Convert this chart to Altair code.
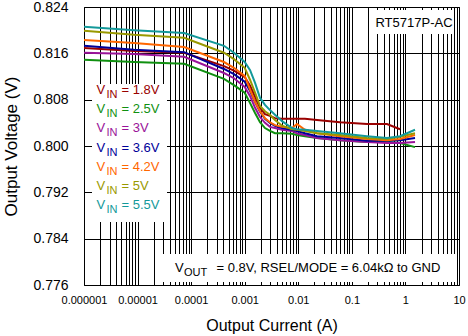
import altair as alt
import pandas as pd

# Output current (A)
currents = [1e-6, 8.6e-6, 7.4e-5, 4.1e-4, 6.3e-4, 1.0e-3, 1.26e-3, 1.56e-3, 1.93e-3,
            2.39e-3, 2.96e-3, 3.67e-3, 4.97e-3, 7.64e-3, 9.46e-3, 1.33e-2, 2.23e-2,
            6.0e-2, 0.192, 0.453, 0.793, 1.51]

series_names = ["1.8V", "2.5V", "3V", "3.6V", "4.2V", "5V", "5.5V"]
series_colors = ["#990000", "#109010", "#991399", "#000099", "#FF6600", "#999900", "#13999A"]

v_18 = [0.8169, 0.8164, 0.8161, 0.8138, 0.8130, 0.8119, 0.8104, 0.8085, 0.8066, 0.8055, 0.8052,
        0.8048, 0.8047, 0.8047, 0.8047, 0.8047, 0.8045, 0.8041, 0.8038, 0.8038, 0.8029, None]
v_25 = [0.8149, 0.8145, 0.8142, 0.8116, 0.8105, 0.8092, 0.8074, 0.8057, 0.8041, 0.8031, 0.8026,
        0.8022, 0.8022, 0.8021, 0.8019, 0.8017, 0.8014, 0.8010, 0.8007, 0.8007, 0.8005, 0.7998]
v_30 = [0.8161, 0.8159, 0.8154, 0.8126, 0.8117, 0.8102, 0.8086, 0.8066, 0.8050, 0.8040, 0.8033,
        0.8031, 0.8028, 0.8026, 0.8022, 0.8019, 0.8014, 0.8010, 0.8007, 0.8005, 0.8005, 0.8007]
v_36 = [0.8173, 0.8166, 0.8162, 0.8133, 0.8124, 0.8111, 0.8095, 0.8076, 0.8059, 0.8047, 0.8040,
        0.8035, 0.8031, 0.8028, 0.8026, 0.8022, 0.8017, 0.8014, 0.8009, 0.8009, 0.8010, 0.8014]
v_42 = [0.8183, 0.8178, 0.8171, 0.8145, 0.8135, 0.8121, 0.8097, 0.8076, 0.8060, 0.8048, 0.8041,
        0.8036, 0.8033, 0.8031, 0.8038, 0.8028, 0.8022, 0.8017, 0.8012, 0.8010, 0.8012, 0.8019]
v_50 = [0.8199, 0.8192, 0.8187, 0.8161, 0.8150, 0.8135, 0.8114, 0.8092, 0.8069, 0.8060, 0.8054,
        0.8045, 0.8035, 0.8029, 0.8028, 0.8026, 0.8022, 0.8019, 0.8014, 0.8012, 0.8016, 0.8022]
v_55 = [0.8206, 0.8200, 0.8195, 0.8173, 0.8161, 0.8145, 0.8131, 0.8109, 0.8083, 0.8071, 0.8062,
        0.8054, 0.8043, 0.8031, 0.8029, 0.8028, 0.8026, 0.8022, 0.8017, 0.8014, 0.8017, 0.8028]

y_ticks = [0.776, 0.784, 0.792, 0.800, 0.808, 0.816, 0.824]
x_ticks = [round(m * 10.0 ** e, 10) for e in range(-6, 1) for m in range(1, 10)] + [10.0]

rows = []
for name, vals in zip(series_names, [v_18, v_25, v_30, v_36, v_42, v_50, v_55]):
    for i, v in zip(currents, vals):
        if v is not None:
            rows.append({"I": i, "V": v, "Vin": name})
df = pd.DataFrame(rows)

FONT = "Liberation Sans"
color_scale = alt.Scale(domain=series_names, range=series_colors)

lines = alt.Chart(df).mark_line(strokeWidth=2, clip=True).encode(
    x=alt.X("I:Q",
            scale=alt.Scale(type="log", domain=[1e-6, 10]),
            axis=alt.Axis(values=x_ticks, title="Output Current (A)",
                          labelExpr="abs(log(datum.value)/LN10 - round(log(datum.value)/LN10)) < 0.001 ? format(datum.value, '.6~f') : ''",
                          labelFontSize=11, labelPadding=9, labelOverlap=False, labelFlush=False,
                          labelBound=False, titleFontSize=16, titlePadding=12)),
    y=alt.Y("V:Q",
            scale=alt.Scale(domain=[0.776, 0.824], nice=False, zero=False),
            axis=alt.Axis(values=y_ticks, format=".3f", title="Output Voltage (V)",
                          labelFontSize=14, labelPadding=16, titleFontSize=17, titlePadding=12)),
    color=alt.Color("Vin:N", scale=color_scale, legend=None),
    order=alt.Order("I:Q"),
)

def box(x1, x2, y1, y2):
    return alt.Chart(alt.Data(values=[{"a": 0}])).mark_rect(color="white").encode(
        x=alt.value(x1), x2=alt.value(x2), y=alt.value(y1), y2=alt.value(y2))

def txt(t, x, y, size, color, align="left"):
    return alt.Chart(alt.Data(values=[{"t": t}])).mark_text(
        font=FONT, fontSize=size, color=color, align=align, baseline="middle").encode(
        text="t:N", x=alt.value(x), y=alt.value(y))

layers = [lines, box(8, 83, 77, 215)]
for k, (name, col) in enumerate(zip(series_names, series_colors)):
    yc = 83 + 19.17 * k
    layers.append(txt("V", 12.5, yc, 13, col))
    layers.append(txt("IN", 22.5, yc + 5, 11, col))
    layers.append(txt("= " + name, 37.5, yc, 13, col))

layers.append(box(292, 368, 3, 27))
layers.append(txt("RT5717P-AC", 330, 16, 13, "black", align="center"))

layers.append(box(76, 372, 247, 275))
layers.append(txt("V", 91, 261, 13, "black"))
layers.append(txt("OUT", 100, 266, 11, "black"))
layers.append(txt("= 0.8V, RSEL/MODE = 6.04k\u03a9 to GND", 132.5, 261, 13, "black"))

chart = alt.layer(*layers).properties(
    width=375, height=278,
    autosize=alt.AutoSizeParams(type="none"),
    padding={"left": 84, "top": 7, "right": 9, "bottom": 51},
    background="white",
).configure_view(stroke="black", strokeWidth=1).configure_axis(
    gridColor="black", gridOpacity=1, gridWidth=1, domain=False, ticks=False,
    labelFont=FONT, titleFont=FONT, labelColor="black", titleColor="black",
    titleFontWeight="normal",
)

chart.save("out.html", embed_options={"renderer": "svg", "actions": False})
